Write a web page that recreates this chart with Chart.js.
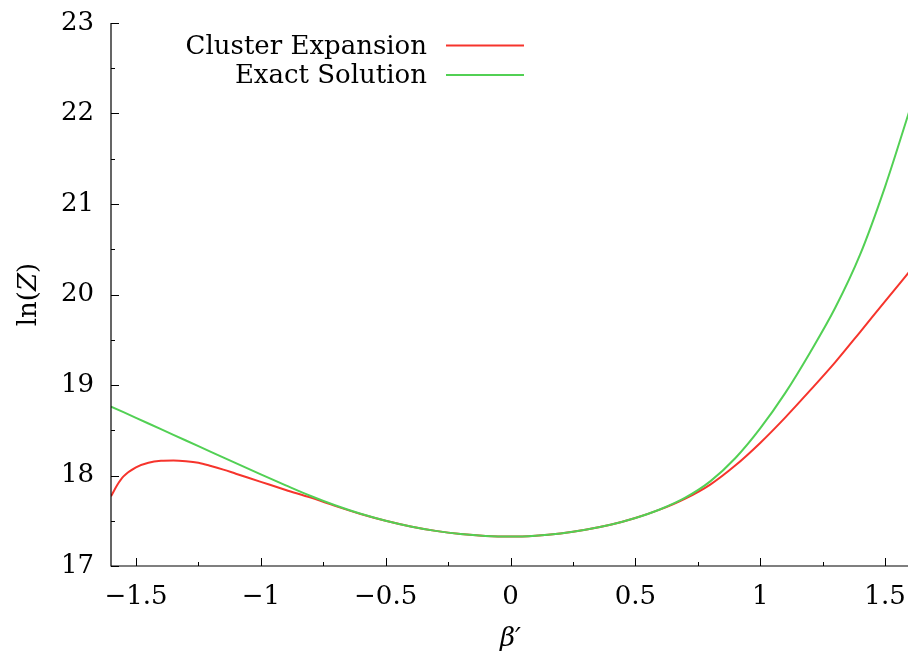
<!DOCTYPE html>
<html>
<head>
<meta charset="utf-8">
<script src="https://cdn.jsdelivr.net/npm/chart.js@4/dist/chart.umd.min.js"></script>
<style>
  html, body { margin: 0; padding: 0; background: #fff; overflow: hidden; }
  #wrap { width: 911px; height: 655px; }
</style>
</head>
<body>
<div id="wrap"><canvas id="c" width="911" height="655"></canvas></div>
<script>
// beta' grid and ln(Z) values for the exact solution
const betaExact = [-1.6, -1.5, -1.4, -1.3, -1.2, -1.1, -1.0, -0.9, -0.8, -0.7, -0.6, -0.5, -0.4, -0.3, -0.2, -0.1,
                   0.0, 0.1, 0.2, 0.3, 0.4, 0.5, 0.6, 0.7, 0.8, 0.9, 1.0, 1.1, 1.2, 1.3, 1.4, 1.5, 1.6];
const lnZExact = [18.762, 18.637, 18.512, 18.387, 18.262, 18.137, 18.013, 17.891, 17.773, 17.668, 17.577, 17.50, 17.437, 17.388, 17.353, 17.332,
                  17.325, 17.335, 17.36, 17.40, 17.455, 17.53, 17.627, 17.755, 17.935, 18.19, 18.52, 18.91, 19.36, 19.85, 20.44, 21.19, 22.05];

// beta' grid and ln(Z) values for the cluster expansion
const betaCluster = [-1.6, -1.575, -1.55, -1.5, -1.45, -1.4, -1.35, -1.3, -1.25, -1.2, -1.15, -1.1, -1.0, -0.9, -0.8, -0.7, -0.6, -0.5, -0.4, -0.3, -0.2, -0.1,
                     0.0, 0.1, 0.2, 0.3, 0.4, 0.5, 0.6, 0.7, 0.8, 0.9, 1.0, 1.1, 1.2, 1.3, 1.4, 1.5, 1.6];
const lnZCluster = [17.77, 17.895, 17.99, 18.09, 18.14, 18.162, 18.166, 18.158, 18.14, 18.105, 18.065, 18.02, 17.93, 17.84, 17.755, 17.662, 17.575, 17.50, 17.437, 17.388, 17.353, 17.332,
                    17.325, 17.335, 17.36, 17.40, 17.455, 17.53, 17.625, 17.745, 17.90, 18.11, 18.36, 18.64, 18.94, 19.25, 19.585, 19.925, 20.26];

// axis ticks
const xMajorTicks = [-1.5, -1, -0.5, 0, 0.5, 1, 1.5];
const xMinorTicks = [-1.25, -0.75, -0.25, 0.25, 0.75, 1.25];
const yMajorTicks = [17, 18, 19, 20, 21, 22, 23];
const yMinorTicks = [17.5, 18.5, 19.5, 20.5, 21.5, 22.5];

const seriesNames = ['Cluster Expansion', 'Exact Solution'];
const RED = '#f6342c';
const GREEN = '#52d054';
const FONT = '"DejaVu Serif", "Liberation Serif", serif';

function fmt(v) {
  const s = String(v);
  return s.startsWith('-') ? '\u2212' + s.slice(1) : s;
}

const toPoints = (xs, ys) => xs.map((x, i) => ({ x: x, y: ys[i] }));

// inward ticks, axis lines, key and axis titles
const decorations = {
  id: 'decorations',
  afterDatasetsDraw(chart) {
    const { ctx, chartArea: a, scales: { x, y } } = chart;
    ctx.save();
    ctx.strokeStyle = '#000';
    ctx.lineWidth = 1.2;
    ctx.beginPath();
    ctx.moveTo(a.left, a.top);
    ctx.lineTo(a.left, a.bottom);
    ctx.lineTo(a.right, a.bottom);
    ctx.stroke();

    ctx.lineWidth = 1;
    ctx.beginPath();
    xMajorTicks.forEach(v => { const px = Math.round(x.getPixelForValue(v)) + 0.5; ctx.moveTo(px, a.bottom); ctx.lineTo(px, a.bottom - 8); });
    xMinorTicks.forEach(v => { const px = Math.round(x.getPixelForValue(v)) + 0.5; ctx.moveTo(px, a.bottom); ctx.lineTo(px, a.bottom - 4); });
    yMajorTicks.forEach(v => { const py = Math.round(y.getPixelForValue(v)) + 0.5; ctx.moveTo(a.left, py); ctx.lineTo(a.left + 8, py); });
    yMinorTicks.forEach(v => { const py = Math.round(y.getPixelForValue(v)) + 0.5; ctx.moveTo(a.left, py); ctx.lineTo(a.left + 4, py); });
    ctx.stroke();

    // key
    ctx.font = '26px ' + FONT;
    ctx.fillStyle = '#000';
    ctx.textAlign = 'right';
    ctx.textBaseline = 'alphabetic';
    const keyRows = [{ name: seriesNames[0], color: RED, base: 54, ly: 45.5 },
                     { name: seriesNames[1], color: GREEN, base: 83, ly: 75 }];
    keyRows.forEach(r => {
      ctx.fillText(r.name, 427, r.base);
      ctx.strokeStyle = r.color;
      ctx.lineWidth = 2;
      ctx.beginPath();
      ctx.moveTo(446, r.ly);
      ctx.lineTo(524, r.ly);
      ctx.stroke();
    });

    // y title: ln(Z)
    ctx.save();
    ctx.translate(36, (a.top + a.bottom) / 2);
    ctx.rotate(-Math.PI / 2);
    ctx.textAlign = 'left';
    const parts = [['ln(', 'normal'], ['Z', 'italic'], [')', 'normal']];
    let total = 0;
    parts.forEach(p => { ctx.font = p[1] + ' 26px ' + FONT; total += ctx.measureText(p[0]).width; });
    let cx = -total / 2;
    parts.forEach(p => { ctx.font = p[1] + ' 26px ' + FONT; ctx.fillText(p[0], cx, 0); cx += ctx.measureText(p[0]).width; });
    ctx.restore();

    // x title: beta'
    ctx.textAlign = 'center';
    ctx.font = 'italic 26px ' + FONT;
    ctx.fillText('\u03B2\u2032', x.getPixelForValue(0), 646);
    ctx.restore();
  }
};

new Chart(document.getElementById('c'), {
  type: 'line',
  data: {
    datasets: [
      {
        label: seriesNames[1],
        data: toPoints(betaExact, lnZExact),
        borderColor: GREEN,
        borderWidth: 2,
        pointRadius: 0,
        cubicInterpolationMode: 'monotone',
        fill: false
      },
      {
        label: seriesNames[0],
        data: toPoints(betaCluster, lnZCluster),
        borderColor: RED,
        borderWidth: 2,
        pointRadius: 0,
        cubicInterpolationMode: 'monotone',
        fill: false
      }
    ]
  },
  options: {
    responsive: false,
    animation: false,
    layout: { padding: { left: 0, right: 1, top: 23, bottom: 0 } },
    plugins: { legend: { display: false }, tooltip: { enabled: false } },
    scales: {
      x: {
        type: 'linear',
        min: -1.6,
        max: 1.6,
        grid: { display: false, drawTicks: false },
        border: { display: false },
        afterBuildTicks: s => { s.ticks = xMajorTicks.map(v => ({ value: v })); },
        afterFit: s => { s.height = 89; s.paddingLeft = 0; s.paddingRight = 0; },
        ticks: {
          color: '#000',
          font: { family: FONT, size: 26 },
          padding: 16,
          maxRotation: 0,
          autoSkip: false,
          callback: v => fmt(v)
        }
      },
      y: {
        type: 'linear',
        min: 17,
        max: 23,
        grid: { display: false, drawTicks: false },
        border: { display: false },
        afterBuildTicks: s => { s.ticks = yMajorTicks.map(v => ({ value: v })); },
        afterFit: s => { s.width = 111; s.paddingTop = 0; s.paddingBottom = 0; },
        ticks: {
          color: '#000',
          font: { family: FONT, size: 26 },
          padding: 17,
          autoSkip: false,
          callback: v => fmt(v)
        }
      }
    }
  },
  plugins: [decorations]
});
</script>
</body>
</html>
